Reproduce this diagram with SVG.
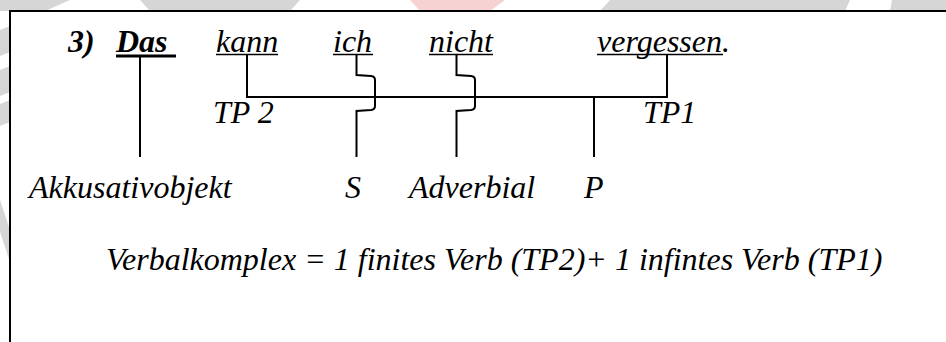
<svg xmlns="http://www.w3.org/2000/svg" width="946" height="342" viewBox="0 0 946 342">
  <style>
    .t { font-size: 32px; font-style: italic; fill: #000; }
    .b { font-weight: bold; }
    .ln { stroke: #000; stroke-width: 2; fill: none; }
    .ul { stroke: #000; stroke-width: 1.6; }
    .wm { fill: #d6d6d6; }
    .wr { fill: #f7d2d2; }
  </style>
  <rect width="946" height="342" fill="#fff"/>
  <!-- faint background shapes around the frame -->
  <g id="backdrop">
    <polygon class="wm" points="0,0 70,0 45,11 0,11"/>
    <polygon class="wm" points="140,0 300,0 290,11 150,11"/>
    <polygon class="wr" points="410,0 505,0 490,11 420,11"/>
    <polygon class="wm" points="610,0 850,0 845,11 600,11"/>
    <polygon class="wm" points="892,0 946,0 946,11 890,11"/>
    <polygon class="wm" points="0,30 10,26 10,52 0,56"/>
    <polygon class="wm" points="0,70 10,66 10,92 0,96"/>
    <polygon class="wm" points="0,104 10,100 10,122 0,126"/>
    <polygon class="wm" points="0,200 10,230 10,262 0,232"/>
  </g>
  <!-- frame -->
  <rect x="10" y="11" width="960" height="360" fill="#fff" stroke="#000" stroke-width="2"/>

  <g id="n-num"><text class="t b" x="68" y="52" font-family="'Liberation Serif', serif" style="font-family:'Liberation Serif',serif">3)</text></g>
  <g id="n-das">
    <text class="t b" x="116" y="52" font-family="'Liberation Serif', serif" style="font-family:'Liberation Serif',serif">Das</text>
    <line x1="116" y1="56" x2="176" y2="56" stroke="#000" stroke-width="3"/>
  </g>
  <g id="n-kann">
    <text class="t" x="216" y="52" font-family="'Liberation Serif', serif" style="font-family:'Liberation Serif',serif">kann</text>
    <line class="ul" x1="216" y1="54.5" x2="278" y2="54.5"/>
  </g>
  <g id="n-ich">
    <text class="t" x="333" y="52" font-family="'Liberation Serif', serif" style="font-family:'Liberation Serif',serif">ich</text>
    <line class="ul" x1="333" y1="54.5" x2="373" y2="54.5"/>
  </g>
  <g id="n-nicht">
    <text class="t" x="429" y="52" font-family="'Liberation Serif', serif" style="font-family:'Liberation Serif',serif">nicht</text>
    <line class="ul" x1="429" y1="54.5" x2="493" y2="54.5"/>
  </g>
  <g id="n-vergessen">
    <text class="t" x="597" y="52" font-family="'Liberation Serif', serif" style="font-family:'Liberation Serif',serif">vergessen.</text>
    <line class="ul" x1="597" y1="54.5" x2="723" y2="54.5"/>
  </g>

  <g id="n-tp2"><text class="t" x="213" y="123" font-family="'Liberation Serif', serif" style="font-family:'Liberation Serif',serif">TP 2</text></g>
  <g id="n-tp1"><text class="t" x="643" y="123" font-family="'Liberation Serif', serif" style="font-family:'Liberation Serif',serif">TP1</text></g>

  <g id="n-akk"><text class="t" x="29" y="198" font-family="'Liberation Serif', serif" style="font-family:'Liberation Serif',serif">Akkusativobjekt</text></g>
  <g id="n-s"><text class="t" x="345" y="198" font-family="'Liberation Serif', serif" style="font-family:'Liberation Serif',serif">S</text></g>
  <g id="n-adv"><text class="t" x="409" y="198" font-family="'Liberation Serif', serif" style="font-family:'Liberation Serif',serif">Adverbial</text></g>
  <g id="n-p"><text class="t" x="584" y="198" font-family="'Liberation Serif', serif" style="font-family:'Liberation Serif',serif">P</text></g>

  <g id="n-note"><text class="t" x="106" y="270" font-family="'Liberation Serif', serif" style="font-family:'Liberation Serif',serif">Verbalkomplex = 1 finites Verb (TP2)+ 1 infintes Verb (TP1)</text></g>

  <g id="connectors">
    <line class="ln" x1="140" y1="57" x2="140" y2="157"/>
    <polyline class="ln" points="247,55 247,97 667,97 667,55"/>
    <line class="ln" x1="594" y1="97" x2="594" y2="157"/>
    <path class="ln" d="M356.5,55 V75 L371,76 Q375,76.5 375,80 V106 Q375,109.5 371,110 L356.5,111 V157"/>
    <path class="ln" d="M456.5,55 V75 L471,76 Q475,76.5 475,80 V106 Q475,109.5 471,110 L456.5,111 V157"/>
  </g>
</svg>
